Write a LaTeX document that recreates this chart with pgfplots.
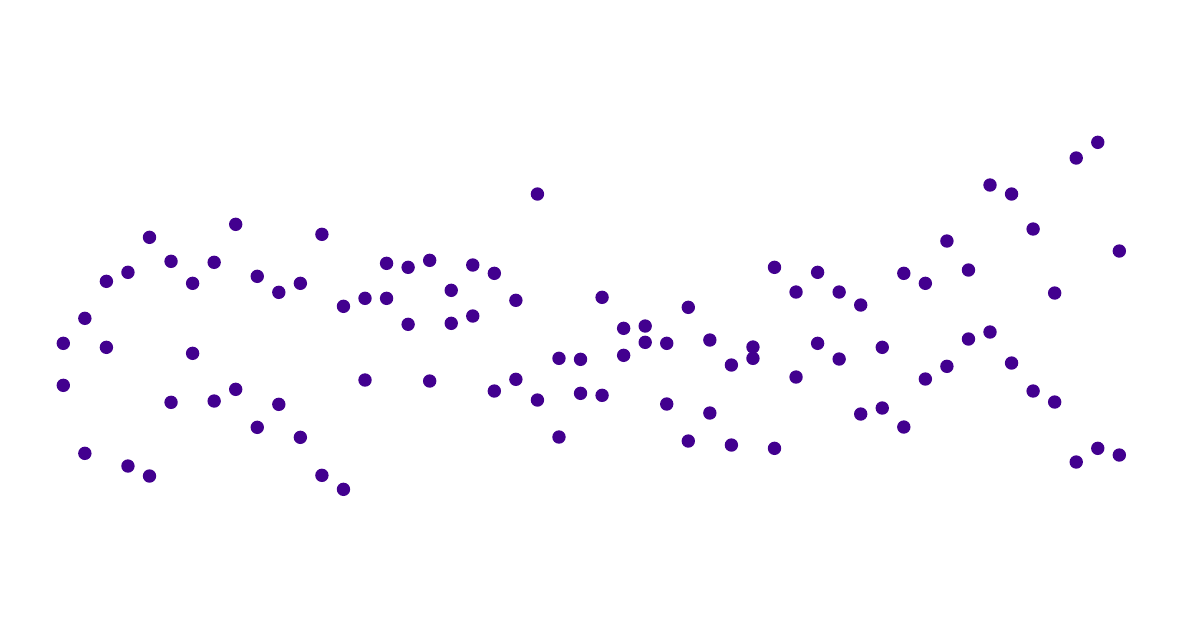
\documentclass[border=0pt]{standalone}
\usepackage{pgfplots}
\pgfplotsset{compat=1.18}
\definecolor{dotc}{HTML}{42008F}

\begin{document}
\begin{tikzpicture}
\begin{axis}[
    scale only axis,
    width=11.82cm, height=6.36cm,
    xmin=-2.937, xmax=51.909,
    ymin=0, ymax=636, y dir=reverse,
    hide axis, clip=false,
]
\path (rel axis cs:0,0) rectangle (rel axis cs:1,1);
% upper points
\addplot[only marks, mark=*, mark size=1.7pt, color=dotc] coordinates {
(0,343.3) (1,318.3) (2,281.3) (3,272.3) (4,237.3) (5,261.3) (6,283.3) (7,262.3) (8,224.3) (9,276.3)
(10,292.3) (11,283.3) (12,234.3) (13,306.3) (14,298.3) (15,263.3) (16,267.3) (17,260.3) (18,290.3) (19,265)
(20,273.3) (21,300.3) (22,194) (23,358.3) (24,359.3) (25,297.3) (26,328.3) (27,326) (28,343.3) (29,307.3)
(30,340) (31,365) (32,347) (33,267.3) (34,292) (35,272.3) (36,292) (37,305) (38,347.3) (39,273.3)
(40,283.3) (41,241) (42,270) (43,185) (44,194) (45,229) (46,293) (47,158) (48,142.3) (49,251)
};
% lower points
\addplot[only marks, mark=*, mark size=1.7pt, color=dotc] coordinates {
(0,385.3) (1,453.3) (2,347.3) (3,466) (4,476) (5,402.3) (6,353.3) (7,401) (8,389.3) (9,427.3)
(10,404.3) (11,437.3) (12,475.3) (13,489.3) (14,380) (15,298.3) (16,324.3) (17,381) (18,323.3) (19,316)
(20,391) (21,379.3) (22,400) (23,437) (24,393.3) (25,395.3) (26,355.3) (27,342.3) (28,404) (29,441)
(30,413) (31,445) (32,358.3) (33,448.3) (34,377) (35,343.3) (36,359) (37,414) (38,408) (39,427)
(40,379) (41,366.3) (42,339) (43,332) (44,363) (45,391) (46,402) (47,462) (48,448.3) (49,455)
};
\end{axis}
\end{tikzpicture}
\end{document}
